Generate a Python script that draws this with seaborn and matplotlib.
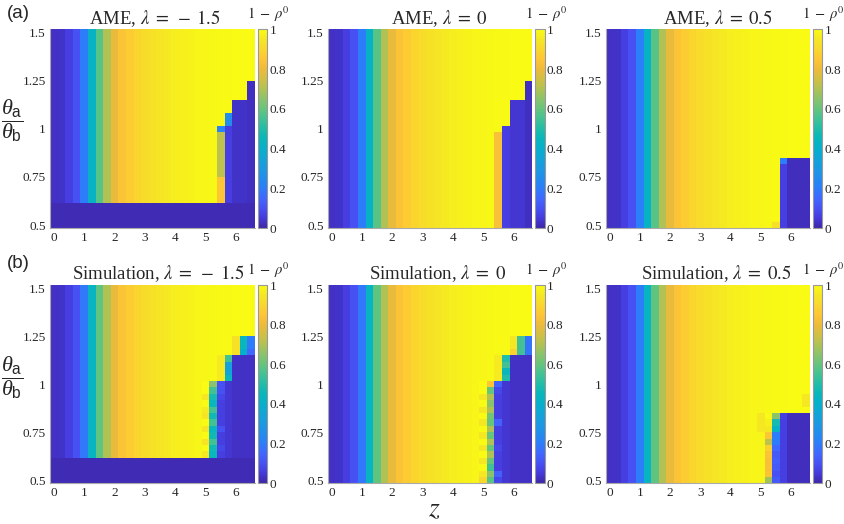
import numpy as np
import matplotlib
matplotlib.use("Agg")
import matplotlib.pyplot as plt
import seaborn as sns
from matplotlib.colors import LinearSegmentedColormap

# ---------------- data ----------------
z_vals = [0, 0.25, 0.5, 0.75, 1.0, 1.25, 1.5, 1.75, 2.0, 2.25, 2.5, 2.75, 3.0, 3.25,
          3.5, 3.75, 4.0, 4.25, 4.5, 4.75, 5.0, 5.25, 5.5, 5.75, 6.0, 6.25, 6.5]
ratio_vals = [0.5, 0.5333, 0.5667, 0.6, 0.6333, 0.6667, 0.7, 0.7333, 0.7667, 0.8,
              0.8333, 0.8667, 0.9, 0.9333, 0.9667, 1.0, 1.0333, 1.0667, 1.1, 1.1333,
              1.1667, 1.2, 1.2333, 1.2667, 1.3, 1.3333, 1.3667, 1.4, 1.4333, 1.4667, 1.5]

xtick_vals = [0, 1, 2, 3, 4, 5, 6]
xtick_labels = ["0", "1", "2", "3", "4", "5", "6"]
ytick_vals = [0.5, 0.75, 1.0, 1.25, 1.5]
ytick_labels = ["0.5", "0.75", "1", "1.25", "1.5"]
cbar_ticks = [0, 0.2, 0.4, 0.6, 0.8, 1.0]
cbar_labels = ["0", "0.2", "0.4", "0.6", "0.8", "1"]

# column profiles of 1 - rho^0 (along z), per panel
ame_m15_profile = [0.03, 0.035, 0.06, 0.10, 0.20, 0.42, 0.58, 0.70, 0.79, 0.84, 0.87, 0.895,
                   0.915, 0.93, 0.945, 0.955, 0.965, 0.972, 0.978, 0.983, 0.987, 0.99,
                   0.993, 0.996, 1.0, 1.0, 1.0]
ame_0_profile = [0.03, 0.035, 0.06, 0.10, 0.20, 0.42, 0.58, 0.70, 0.79, 0.84, 0.87, 0.895,
                 0.915, 0.93, 0.945, 0.955, 0.965, 0.972, 0.978, 0.983, 0.987, 0.99,
                 0.993, 0.996, 1.0, 1.0, 1.0]
ame_05_profile = [0.03, 0.035, 0.06, 0.10, 0.21, 0.42, 0.58, 0.70, 0.79, 0.84, 0.87, 0.895,
                  0.915, 0.93, 0.945, 0.955, 0.965, 0.972, 0.978, 0.983, 0.987, 0.99,
                  0.993, 0.996, 1.0, 1.0, 1.0]
sim_m15_profile = [0.03, 0.035, 0.06, 0.10, 0.19, 0.43, 0.59, 0.70, 0.79, 0.84, 0.87, 0.895,
                   0.915, 0.93, 0.945, 0.955, 0.965, 0.972, 0.978, 0.983, 0.987, 0.99,
                   0.993, 0.996, 1.0, 1.0, 1.0]
sim_0_profile = [0.03, 0.035, 0.06, 0.10, 0.19, 0.43, 0.59, 0.70, 0.79, 0.84, 0.87, 0.895,
                 0.915, 0.93, 0.945, 0.955, 0.965, 0.972, 0.978, 0.983, 0.987, 0.99,
                 0.993, 0.996, 1.0, 1.0, 1.0]
sim_05_profile = [0.03, 0.035, 0.06, 0.10, 0.20, 0.43, 0.59, 0.70, 0.79, 0.84, 0.87, 0.895,
                  0.915, 0.93, 0.945, 0.955, 0.965, 0.972, 0.978, 0.983, 0.987, 0.99,
                  0.993, 0.996, 1.0, 1.0, 1.0]

# cell blocks that differ from the profile: (z from, z to, ratio from, ratio to, value(s))
ame_m15_cells = [
    (0.0, 6.5, 0.5, 0.6, 0.015),
    (5.5, 5.5, 0.6333, 0.7333, 0.85),
    (5.5, 5.5, 0.7667, 0.9667, 0.72),
    (5.5, 5.5, 1.0, 1.0, 0.22),
    (5.75, 5.75, 0.6333, 1.0, 0.06),
    (5.75, 5.75, 1.0333, 1.0667, 0.25),
    (6.0, 6.25, 0.6333, 1.1333, 0.035),
    (6.5, 6.5, 0.6333, 1.2333, 0.025),
]
ame_0_cells = [
    (5.5, 5.5, 0.5, 0.9667, 0.83),
    (5.75, 5.75, 0.5, 1.0, 0.06),
    (6.0, 6.25, 0.5, 1.1333, 0.04),
    (6.5, 6.5, 0.5, 1.2333, 0.025),
]
ame_05_cells = [
    (5.5, 5.5, 0.5, 0.5, 0.93),
    (5.75, 5.75, 0.5, 0.8, 0.06),
    (5.75, 5.75, 0.8333, 0.8333, 0.2),
    (6.0, 6.5, 0.5, 0.8333, 0.02),
]
sim_m15_cells = [
    (0.0, 6.5, 0.5, 0.6, 0.015),
    (5.0, 5.0, 0.6333, 1.0, [0.95, 1, 0.94, 1, 0.95, 1, 0.94, 0.96, 1, 0.95, 1, 1]),
    (5.25, 5.25, 0.6333, 1.0, [0.45, 0.47, 0.55, 0.47, 0.45, 0.55, 0.47, 0.55, 0.45, 0.48, 0.55, 0.65]),
    (5.5, 5.5, 0.6333, 1.0, [0.06, 0.08, 0.06, 0.06, 0.1, 0.06, 0.06, 0.06, 0.06, 0.08, 0.1, 0.1]),
    (5.5, 5.5, 1.0333, 1.1333, 0.96),
    (5.75, 5.75, 0.6333, 1.0, 0.04),
    (5.75, 5.75, 1.0333, 1.1333, [0.45, 0.35, 0.33, 0.55]),
    (6.0, 6.5, 0.6333, 1.1333, 0.03),
    (6.0, 6.0, 1.1667, 1.2333, 0.93),
    (6.25, 6.25, 1.1667, 1.2333, [0.4, 0.45, 0.45]),
    (6.5, 6.5, 1.1667, 1.2333, [0.15, 0.2, 0.2]),
]
sim_0_cells = [
    (5.0, 5.0, 0.5, 1.0, [0.9, 0.95, 1, 0.95, 1, 0.95, 1, 0.95, 1, 0.95, 1, 0.95, 1, 0.95, 1, 1]),
    (5.25, 5.25, 0.5, 1.0, [0.58, 0.65, 0.55, 0.6, 0.7, 0.6, 0.7, 0.6, 0.7, 0.6, 0.62, 0.7, 0.65, 0.7, 0.6, 0.85]),
    (5.5, 5.5, 0.5, 1.0, [0.08, 0.14, 0.06, 0.06, 0.06, 0.08, 0.06, 0.06, 0.06, 0.14, 0.06, 0.06, 0.06, 0.06, 0.08, 0.14]),
    (5.5, 5.5, 1.0333, 1.1333, 0.96),
    (5.75, 5.75, 0.5, 1.0, 0.04),
    (5.75, 5.75, 1.0333, 1.1333, [0.5, 0.45, 0.55, 0.5]),
    (6.0, 6.5, 0.5, 1.1333, 0.03),
    (6.0, 6.0, 1.1667, 1.2333, [0.88, 0.95, 0.95]),
    (6.25, 6.25, 1.1667, 1.2333, 0.55),
    (6.5, 6.5, 1.1667, 1.2333, 0.18),
]
sim_05_cells = [
    (5.0, 5.0, 0.7667, 0.8333, 0.95),
    (5.25, 5.25, 0.5, 0.8333, [0.68, 0.84, 0.83, 0.83, 0.84, 0.88, 0.72, 0.85, 0.95, 0.97, 1.0]),
    (5.5, 5.5, 0.5, 0.8333, [0.12, 0.1, 0.12, 0.13, 0.12, 0.15, 0.2, 0.2, 0.42, 0.48, 0.65]),
    (5.75, 5.75, 0.5, 0.8333, 0.06),
    (6.0, 6.5, 0.5, 0.8333, 0.02),
    (6.5, 6.5, 0.9, 0.9333, 0.95),
]

titles = [r"AME, $\lambda\;=\;-\;1.5$", r"AME, $\lambda\;=\;0$", r"AME, $\lambda\;=\;0.5$",
          r"Simulation, $\lambda\;=\;-\;1.5$", r"Simulation, $\lambda\;=\;0$",
          r"Simulation, $\lambda\;=\;0.5$"]

# parula-like colormap anchors (style)
parula_anchors = [
    (0.00, (0.2422, 0.1504, 0.6603)), (0.05, (0.2717, 0.2280, 0.8600)),
    (0.10, (0.2800, 0.3200, 0.9550)), (0.15, (0.2500, 0.4050, 0.9950)),
    (0.20, (0.1750, 0.4900, 0.9800)), (0.25, (0.1350, 0.5500, 0.9300)),
    (0.30, (0.1100, 0.6000, 0.8850)), (0.35, (0.0700, 0.6450, 0.8450)),
    (0.40, (0.0250, 0.6900, 0.7950)), (0.45, (0.0300, 0.7150, 0.7350)),
    (0.50, (0.1300, 0.7400, 0.6600)), (0.55, (0.2600, 0.7600, 0.5800)),
    (0.60, (0.4000, 0.7700, 0.4900)), (0.65, (0.5400, 0.7650, 0.4200)),
    (0.70, (0.6900, 0.7600, 0.3300)), (0.75, (0.8200, 0.7500, 0.2700)),
    (0.80, (0.9300, 0.7300, 0.2300)), (0.85, (0.9950, 0.7700, 0.2100)),
    (0.90, (0.9800, 0.8400, 0.1800)), (0.95, (0.9600, 0.9050, 0.1400)),
    (1.00, (0.9769, 0.9839, 0.0805)),
]
parula = LinearSegmentedColormap.from_list("parula", parula_anchors, N=256)


def build(profile, cells):
    M = np.tile(np.asarray(profile, dtype=float), (len(ratio_vals), 1))
    for z0, z1, r0, r1, v in cells:
        ci = [i for i, z in enumerate(z_vals) if z0 - 1e-6 <= z <= z1 + 1e-6]
        ri = [j for j, r in enumerate(ratio_vals) if r0 - 0.005 <= r <= r1 + 0.005]
        for c in ci:
            M[ri, c] = v
    return M[::-1]  # top row = largest ratio


panels = [build(ame_m15_profile, ame_m15_cells), build(ame_0_profile, ame_0_cells),
          build(ame_05_profile, ame_05_cells), build(sim_m15_profile, sim_m15_cells),
          build(sim_0_profile, sim_0_cells), build(sim_05_profile, sim_05_cells)]

# ---------------- style ----------------
sns.set_theme(style="white")
plt.rcParams["font.family"] = ["Liberation Serif", "DejaVu Serif"]
plt.rcParams["mathtext.fontset"] = "stix"
plt.rcParams["mathtext.rm"] = "Liberation Serif"
plt.rcParams["mathtext.it"] = "Liberation Serif:italic"
plt.rcParams["mathtext.sf"] = "Liberation Sans"

W, H = 845, 524
fig = plt.figure(figsize=(W / 100, H / 100), dpi=100)

cols_px = [(50, 255), (327.7, 532.3), (605.7, 810)]
rows_px = [(29.3, 228.3), (285, 483.3)]
title_x = [0.512, 0.544, 0.55, 0.53, 0.539, 0.542]

xcenters = np.arange(len(z_vals)) + 0.5
ycenters = (len(ratio_vals) - 1 - np.arange(len(ratio_vals))) + 0.5

for k, data in enumerate(panels):
    rt, rb = rows_px[k // 3]
    cl, cr = cols_px[k % 3]
    ax = fig.add_axes([cl / W, 1 - rb / H, (cr - cl) / W, (rb - rt) / H])
    cax = fig.add_axes([(cr + 2.8) / W, 1 - rb / H, 9.5 / W, (rb - rt) / H])
    sns.heatmap(data, ax=ax, cbar_ax=cax, cmap=parula, vmin=0, vmax=1,
                xticklabels=False, yticklabels=False)
    ax.set_xticks(np.interp(xtick_vals, z_vals, xcenters))
    ax.set_xticklabels(xtick_labels)
    ax.set_yticks([np.interp(v, ratio_vals, ycenters) for v in ytick_vals])
    ax.set_yticklabels(ytick_labels, rotation=0)
    ax.tick_params(axis="both", which="both", direction="in", length=3, width=0.6,
                   color="#333333", labelsize=9.5, pad=3, bottom=True, left=True,
                   top=False, right=False)
    for s in ["left", "bottom"]:
        ax.spines[s].set_visible(True)
        ax.spines[s].set_color("#aaaaaa")
        ax.spines[s].set_linewidth(0.8)
    ax.set_title(titles[k], fontsize=13.5, pad=4, x=title_x[k])

    cb = ax.collections[0].colorbar
    cb.set_ticks(cbar_ticks)
    cb.set_ticklabels(cbar_labels)
    cb.outline.set_linewidth(0.8)
    cb.outline.set_edgecolor("#999999")
    cax.tick_params(direction="in", length=2.5, width=0.6, labelsize=9.5, pad=1.5,
                    right=True, left=False)
    cax.text(1.15, 1.05, r"$1\;-\;\rho^0$", transform=cax.transAxes, ha="center",
             va="baseline", fontsize=10.5)

# row labels and axis labels
for yc in [121, 378]:
    fig.text(12 / W, 1 - yc / H,
             r"$\dfrac{\mathit{\theta}_\mathsf{a}}{\mathit{\theta}_\mathsf{b}}$",
             ha="center", va="center", fontsize=16, math_fontfamily="custom")
fig.text(7 / W, 1 - 5 / H, "(a)", ha="left", va="top", fontsize=13.5,
         family="Liberation Sans")
fig.text(7 / W, 1 - 255 / H, "(b)", ha="left", va="top", fontsize=13.5,
         family="Liberation Sans")
fig.text(434 / W, 1 - 510 / H, r"$z$", ha="center", va="center", fontsize=20)

fig.savefig("out.png", dpi=100)
